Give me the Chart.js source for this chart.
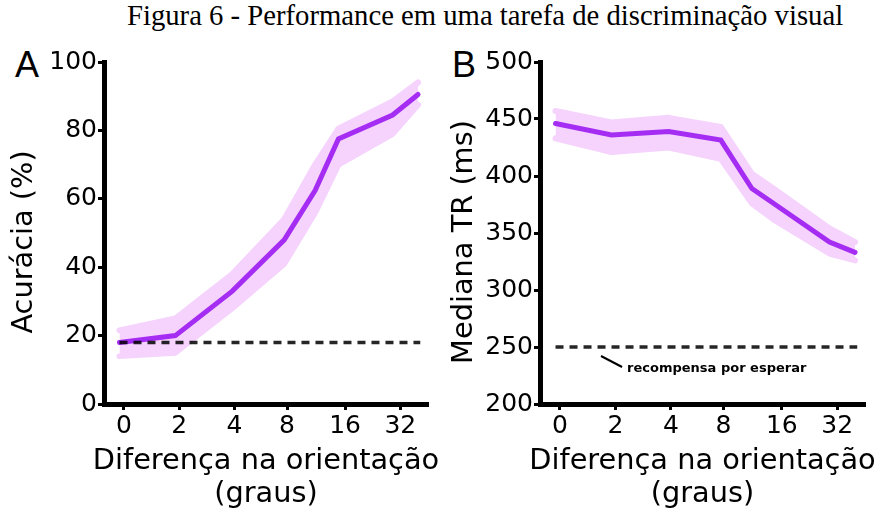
<!DOCTYPE html>
<html>
<head>
<meta charset="utf-8">
<script src="https://cdn.jsdelivr.net/npm/chart.js@4.4.1/dist/chart.umd.min.js"></script>
<style>
body{margin:0;width:876px;height:515px;background:#fff;position:relative;overflow:hidden}
canvas{position:absolute;top:0}
#fig{position:absolute;left:127px;top:1px;font:28.7px/1 "Liberation Serif",serif;white-space:nowrap;color:#000}
.lt{position:absolute;font:36px/1 "Liberation Sans",sans-serif;color:#000}
</style>
</head>
<body>
<div id="fig">Figura 6 - Performance em uma tarefa de discriminação visual</div>
<div class="lt" style="left:15px;top:47px">A</div>
<div class="lt" style="left:452px;top:47px">B</div>
<canvas id="accChart" width="440" height="515" style="left:0"></canvas>
<canvas id="rtChart" width="436" height="515" style="left:440px"></canvas>
<script>
// orientation difference (graus): tick labels and where they sit on the x scale
const xLabels=['0','2','4','8','16','32'];
const tickPos=[0,1,2,2.95,4,5];
const xTitle=['Diferença na orientação','(graus)'];
// x position of each measured condition
const xPos=[-0.08,0.93,1.96,2.9,3.46,3.88,4.86,5.32];

// A: acurácia (%)
const accMean=[18,20,33,48,62.5,77.5,84.5,90.5];
const accHi=[21.5,25,38,54,70,80.5,88.5,94];
const accLo=[14,15,28,41,56,70,79,87.5];
const accChance=18;

// B: mediana TR (ms)
const rtMean=[446,436,439,431.5,389,375,342,333];
const rtHi=[457,447,451,443,402,388,354,342];
const rtLo=[433,421,425,415,376,361,332,326];
const rtReward=250;

const LINE='#a52cf2',BAND='#f5d3fd';
const FONT='"DejaVu Sans", sans-serif';
Chart.defaults.font.family=FONT;
Chart.defaults.color='#000';

const pts=ys=>ys.map((y,i)=>({x:xPos[i],y}));

// axis titles drawn by hand so the long x title is not squeezed to the axis width
const axisTitles={id:'axisTitles',afterDraw(chart,args,opts){
const {ctx,chartArea:a}=chart;
ctx.save();
ctx.fillStyle='#000';
ctx.font='28.8px '+FONT;
ctx.textAlign='center';
ctx.textBaseline='middle';
const cx=(a.left+a.right)/2;
ctx.fillText(xTitle[0],cx,a.bottom+58);
ctx.fillText(xTitle[1],cx,a.bottom+91);
ctx.translate(25,(a.top+a.bottom)/2+9);
ctx.rotate(-Math.PI/2);
ctx.fillText(opts.text,0,0);
ctx.restore();
}};

function panel(id,o){
const ctx=document.getElementById(id);
const plugins=[axisTitles];
if(o.extra)plugins.push(o.extra);
return new Chart(ctx,{
type:'line',
data:{datasets:[
{data:pts(o.hi),borderColor:BAND,borderWidth:6,borderJoinStyle:'round',borderCapStyle:'round',fill:false,order:3},
{data:pts(o.lo),borderColor:BAND,backgroundColor:BAND,borderWidth:6,borderJoinStyle:'round',borderCapStyle:'round',fill:'-1',order:2},
{data:pts(o.mean),borderColor:LINE,borderWidth:5,borderCapStyle:'round',fill:false,order:1},
{data:[{x:xPos[0],y:o.ref},{x:xPos[xPos.length-1]+0.04,y:o.ref}],borderColor:'rgba(0,0,0,0.85)',borderWidth:3.5,borderDash:[8,6],fill:false,order:0}
]},
options:{
responsive:false,animation:false,
layout:{padding:{top:62,right:o.padR,left:0,bottom:0}},
elements:{point:{radius:0},line:{tension:0}},
plugins:{legend:{display:false},tooltip:{enabled:false},axisTitles:{text:o.ytitle}},
scales:{
x:{type:'linear',min:-0.36,max:5.5,
afterBuildTicks:s=>{s.ticks=tickPos.map(v=>({value:v}));},
afterFit:s=>{s.height=o.xh;},
ticks:{autoSkip:false,maxRotation:0,padding:1,font:{size:25},callback:(v,i)=>xLabels[i]},
grid:{drawOnChartArea:false,tickLength:6,tickWidth:3,tickColor:'#000'},
border:{color:'#000',width:5}},
y:{min:o.min,max:o.max,
afterFit:s=>{s.width=o.yw;},
ticks:{stepSize:o.step,padding:1,font:{size:25}},
grid:{drawOnChartArea:false,tickLength:6,tickWidth:3,tickColor:'#000'},
border:{color:'#000',width:5}}
}
},
plugins
});
}

// leader line + note under the reward line in panel B
const rewardNote={id:'rewardNote',afterDatasetsDraw(chart){
const {ctx,scales:{x,y}}=chart;
const y0=y.getPixelForValue(rtReward);
ctx.save();
ctx.strokeStyle='#000';ctx.lineWidth=2;
ctx.beginPath();
ctx.moveTo(x.getPixelForValue(0.74),y0+9);
ctx.lineTo(x.getPixelForValue(1.12),y0+20);
ctx.stroke();
ctx.font='bold 13px '+FONT;
ctx.textBaseline='middle';
ctx.fillStyle='#000';
ctx.fillText('recompensa por esperar',x.getPixelForValue(1.21),y0+22);
ctx.restore();
}};

panel('accChart',{mean:accMean,hi:accHi,lo:accLo,ref:accChance,min:0,max:100,step:20,
ytitle:'Acurácia (%)',yw:104,xh:111,padR:12});
panel('rtChart',{mean:rtMean,hi:rtHi,lo:rtLo,ref:rtReward,min:200,max:500,step:50,
ytitle:'Mediana TR (ms)',yw:100,xh:111,padR:11,extra:rewardNote});
</script>
</body>
</html>
